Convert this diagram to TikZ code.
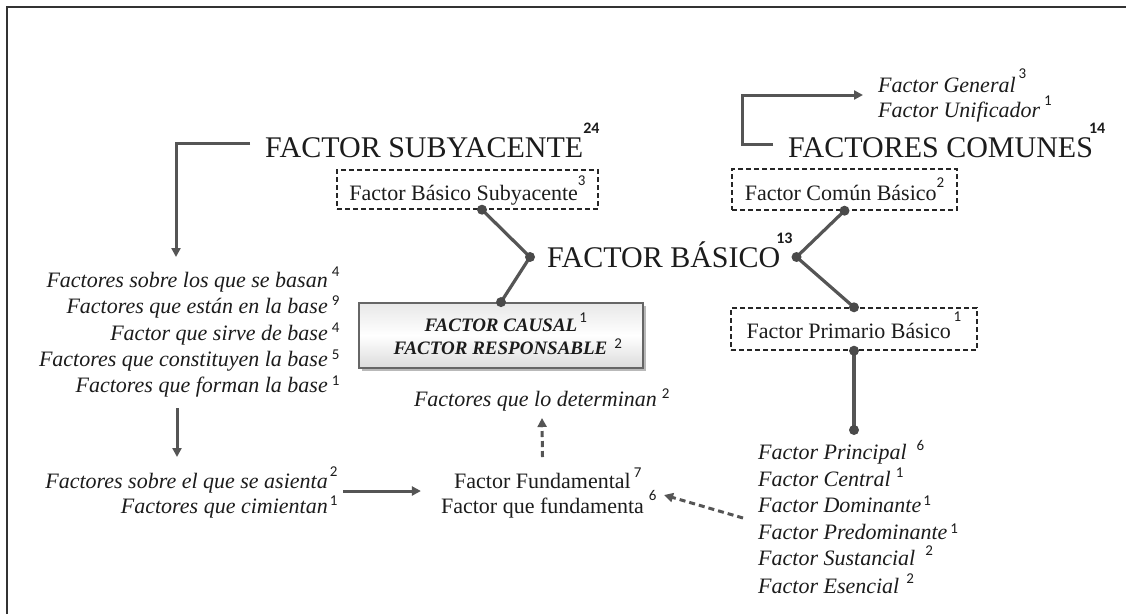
\documentclass[tikz,border=0pt]{standalone}
\usepackage{fontspec}
\setmainfont{Liberation Serif}
\newfontfamily\supfont{Carlito}
\usetikzlibrary{arrows.meta,shadows,calc}
\definecolor{ln}{HTML}{555555}
\definecolor{dk}{HTML}{4A4A4A}
\definecolor{tx}{HTML}{1C1C1C}
\newcommand\supn[2][8pt]{\raisebox{#1}{\normalfont\supfont\fontsize{15}{15}\selectfont #2}}
\newcommand\supb[2][24pt]{\raisebox{#1}{\normalfont\supfont\bfseries\fontsize{16}{16}\selectfont #2}}
\tikzset{
  head/.style={font=\fontsize{30}{30}\selectfont, text=tx, inner sep=0pt, anchor=base west},
  rtx/.style={font=\fontsize{22}{22}\selectfont, text=tx, inner sep=0pt},
  itx/.style={font=\fontsize{22}{22}\selectfont\itshape, text=tx, inner sep=0pt},
  bxt/.style={font=\fontsize{19}{19}\selectfont\bfseries\itshape, text=tx, inner sep=0pt, anchor=base},
  dbox/.style={draw=black!85, dash pattern=on 5pt off 3pt, line width=1.4pt,
    font=\fontsize{22}{22}\selectfont, text=tx, inner sep=0pt, text depth=0pt},
  cbox/.style={draw=black!60, line width=1.8pt, top color=gray!18, bottom color=gray!28,
    middle color=white, drop shadow={shadow xshift=2.5pt, shadow yshift=-2.5pt, opacity=0.55}},
  arr/.style={draw=ln, line width=3pt, -{Triangle[length=9pt,width=9pt]}},
  darr/.style={arr, dash pattern=on 6pt off 4pt},
  conn/.style={draw=ln, line width=3.2pt},
  jdot/.style={circle, fill=dk, inner sep=0pt, minimum size=10pt}
}
\begin{document}
\begin{tikzpicture}[x=1pt,y=-1pt]
\useasboundingbox (0,0) rectangle (1126,614);
\fill[white] (0,0) rectangle (1126,614);
% frame (cropped)
\draw[line width=2.2pt, black!80] (7,614) -- (7,7) -- (1126,7);

% headings
\node[head] (fsub) at (265,157) {FACTOR SUBYACENTE\rlap{\supb{24}}};
\node[head] (fcom) at (788,157) {FACTORES COMUNES\rlap{\hspace{-4pt}\supb{14}}};
\node[head] (fbas) at (547,267) {FACTOR BÁSICO\rlap{\hspace{-4pt}\supb{13}}};

% dashed boxes
\node[dbox, text height=21pt, minimum width=261pt, minimum height=39pt] (bsub) at (467.5,189.5)
  {Factor Básico Subyacente\supn[15pt]{3}};
\node[dbox, text height=21pt, minimum width=225pt, minimum height=41pt] (bcom) at (844.5,189.5)
  {Factor Común Básico\supn[13pt]{2}};
\node[dbox, text height=18pt, minimum width=246pt, minimum height=42pt] (bprim) at (854,329)
  {Factor Primario Básico\hspace{3pt}\supn[17pt]{1}};

% causal box
\node[cbox, minimum width=284pt, minimum height=65pt] (causal) at (501,335.5) {};
\node[bxt] (c1) at (501,331) {FACTOR CAUSAL\rlap{\hspace{2pt}\supn[9pt]{1}}};
\node[bxt] (c2) at (500.5,354) {FACTOR RESPONSABLE\rlap{\hspace{7pt}\supn[6pt]{2}}};

% Factor General / Unificador
\node[itx, anchor=base west] (g1) at (878,92) {Factor General\rlap{\hspace{3pt}\supn[14pt]{3}}};
\node[itx, anchor=base west] (g2) at (878,117) {Factor Unificador\rlap{\hspace{4pt}\supn[12pt]{1}}};

% left list
\node[itx, anchor=base east] (l1) at (328,287) {Factores sobre los que se basan\rlap{\hspace{4pt}\supn[11pt]{4}}};
\node[itx, anchor=base east] (l2) at (328,313.5) {Factores que están en la base\rlap{\hspace{4pt}\supn[8pt]{9}}};
\node[itx, anchor=base east] (l3) at (328,340) {Factor que sirve de base\rlap{\hspace{4pt}\supn[8pt]{4}}};
\node[itx, anchor=base east] (l4) at (328,366) {Factores que constituyen la base\rlap{\hspace{4pt}\supn[7pt]{5}}};
\node[itx, anchor=base east] (l5) at (328,392) {Factores que forman la base\rlap{\hspace{4pt}\supn[7pt]{1}}};

\node[itx, anchor=base east] (a1) at (328,488) {Factores sobre el que se asienta\rlap{\hspace{2pt}\supn[12pt]{2}}};
\node[itx, anchor=base east] (a2) at (328,513) {Factores que cimientan\rlap{\hspace{2pt}\supn[8pt]{1}}};

% fundamental
\node[rtx, anchor=base] (fu1) at (542.5,488) {Factor Fundamental\rlap{\hspace{3pt}\supn[11pt]{7}}};
\node[rtx, anchor=base] (fu2) at (542.5,513) {Factor que fundamenta\rlap{\hspace{5pt}\supn[13pt]{6}}};
\node[itx, anchor=base] (det) at (535.5,406) {Factores que lo determinan\rlap{\hspace{5pt}\supn[8pt]{2}}};

% right list
\node[itx, anchor=base west] (r1) at (758,459) {Factor Principal\rlap{\hspace{10pt}\supn[9pt]{6}}};
\node[itx, anchor=base west] (r2) at (758,486) {Factor Central\rlap{\hspace{5pt}\supn[9pt]{1}}};
\node[itx, anchor=base west] (r3) at (758,512) {Factor Dominante\rlap{\hspace{2pt}\supn[7pt]{1}}};
\node[itx, anchor=base west] (r4) at (758,539) {Factor Predominante\rlap{\hspace{3pt}\supn[6pt]{1}}};
\node[itx, anchor=base west] (r5) at (758,565) {Factor Sustancial\rlap{\hspace{10pt}\supn[10pt]{2}}};
\node[itx, anchor=base west] (r6) at (758,593) {Factor Esencial\rlap{\hspace{7pt}\supn[10pt]{2}}};

% dotted connectors
\coordinate (pA) at ($(bsub.south)+(14.5,0)$);
\coordinate (pB) at ($(fbas.base west)+(-17,-10)$);
\coordinate (pC) at (causal.north);
\coordinate (pD) at ($(fbas.base east)+(16,-10)$);
\coordinate (pE) at (bcom.south);
\coordinate (pF) at (bprim.north);
\coordinate (pG) at (bprim.south);
\coordinate (pH) at ($(r1.base west)+(96,-29)$);
\draw[conn] (pA) -- (pB) -- (pC);
\draw[conn] (pE) -- (pD) -- (pF);
\draw[conn] (pG) -- (pH);
\foreach \p in {pA,pB,pC,pD,pE,pF,pG,pH} \node[jdot] at (\p) {};

% arrows
\draw[arr] ($(fsub.base west)+(-15,-14)$) -| ($(l1.base east)+(-152,-30)$);
\draw[arr] ($(fcom.base west)+(-15,-13)$) -- ++(-31,0) |- ($(g1.base west)+(-15,3)$);
\draw[arr] ($(l5.base east)+(-151,16)$) -- ($(a1.base east)+(-151,-31)$);
\draw[arr] ($(a1.base east)+(15,3)$) -- ($(fu2.base west)+(-20,-22)$);
\draw[darr] ($(fu1.base)+(0,-31)$) -- ($(det.base)+(6.5,12)$);
\draw[darr] ($(r3.base west)+(-15,6)$) -- ($(fu2.base east)+(20,-18)$);
\end{tikzpicture}
\end{document}
